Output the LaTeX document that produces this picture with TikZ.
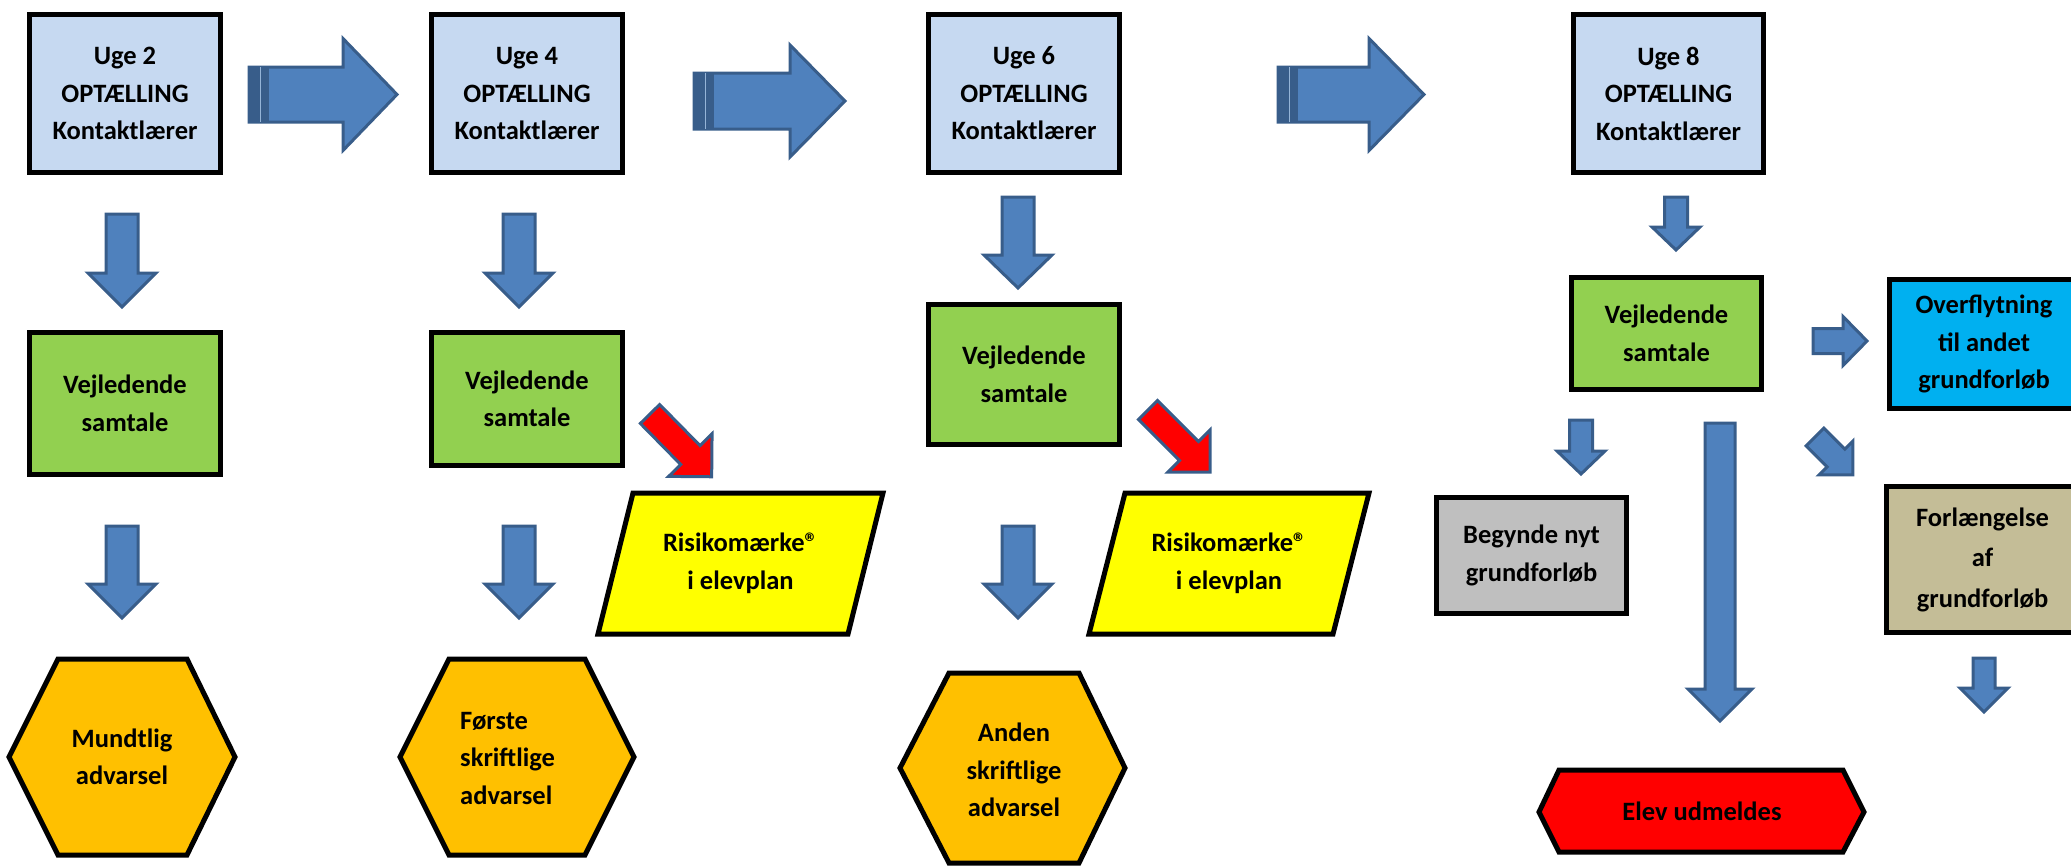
\documentclass[tikz,border=0pt]{standalone}
\usepackage{fontspec}
\setmainfont{Carlito}
\definecolor{boxblue}{HTML}{C6D9F1}
\definecolor{boxgreen}{HTML}{92D050}
\definecolor{boxyellow}{HTML}{FFFF00}
\definecolor{boxorange}{HTML}{FFC000}
\definecolor{boxcyan}{HTML}{00B0F0}
\definecolor{boxgrey}{HTML}{BFBFBF}
\definecolor{boxtan}{HTML}{C4BD97}
\definecolor{arrowfill}{HTML}{4F81BD}
\definecolor{arrowline}{HTML}{385D8A}
\newcommand{\blockarrow}[8]{%
  \begin{scope}[shift={(#1,#2)},rotate=#3]
    \filldraw[#8] (0,-#6) -- ({#4-#5},-#6) -- ({#4-#5},-#7) -- (#4,0) -- ({#4-#5},#7) -- ({#4-#5},#6) -- (0,#6) -- cycle;
  \end{scope}}
\newcommand{\tailstripe}[3]{% x top bottom
  \fill[arrowline] (#1,#2) rectangle ({#1+20},#3);
  \draw[arrowfill!60!white, line width=1pt] ({#1+11},#2) -- ({#1+11},#3);}
\newcommand{\regmark}{®}
\tikzset{
  lbl/.style={font=\fontsize{26.5}{37.5}\selectfont\bfseries, align=center, inner sep=0pt},
  box/.style={lbl, draw=black, line width=5pt, line join=miter},
  shapeline/.style={draw=black, line width=5pt, line join=miter},
  bluearrow/.style={fill=arrowfill, draw=arrowline, line width=3pt, line join=miter},
  redarrow/.style={fill=red, draw=arrowline, line width=3pt, line join=miter},
}
\begin{document}
\begin{tikzpicture}[x=1pt,y=-1pt]
\useasboundingbox (0,0) rectangle (2071,865);
\clip (0,0) rectangle (2071,865);

% top row boxes
\node[box, fill=boxblue, minimum width=191pt, minimum height=158pt] (u2) at (125,93.5) {Uge 2\\OPTÆLLING\\Kontaktlærer};
\node[box, fill=boxblue, minimum width=191pt, minimum height=158pt] (u4) at (527,93.5) {Uge 4\\OPTÆLLING\\Kontaktlærer};
\node[box, fill=boxblue, minimum width=191pt, minimum height=158pt] (u6) at (1024,93.5) {Uge 6\\OPTÆLLING\\Kontaktlærer};
\node[box, fill=boxblue, minimum width=190pt, minimum height=158pt] (u8) at (1668.5,93.5) {Uge 8\\OPTÆLLING\\Kontaktlærer};

% right arrows
\blockarrow{249}{94.5}{0}{148}{54}{27.5}{56}{bluearrow}
\tailstripe{249}{67}{122}
\blockarrow{694}{101}{0}{151}{55}{28}{56}{bluearrow}
\tailstripe{694}{73}{129}
\blockarrow{1278}{94.5}{0}{146}{55}{27.5}{56}{bluearrow}
\tailstripe{1278}{67}{122}

% down arrows top
\blockarrow{122}{214}{-90}{93}{34}{16}{34}{bluearrow}
\blockarrow{519}{214}{-90}{93}{34}{16}{34}{bluearrow}
\blockarrow{1018}{197}{-90}{91}{33}{16}{34}{bluearrow}
\blockarrow{1676}{197}{-90}{53}{23}{11.5}{24}{bluearrow}

% green boxes
\node[box, fill=boxgreen, minimum width=191pt, minimum height=142pt] (v1) at (125,403.5) {Vejledende\\samtale};
\node[box, fill=boxgreen, minimum width=191pt, minimum height=133pt] (v2) at (527,399) {Vejledende\\samtale};
\node[box, fill=boxgreen, minimum width=191pt, minimum height=140pt] (v3) at (1024,374.5) {Vejledende\\samtale};
\node[box, fill=boxgreen, minimum width=190pt, minimum height=112pt] (v4) at (1666.5,333.5) {Vejledende\\samtale};

% right-hand boxes
\node[box, fill=boxcyan, minimum width=189pt, minimum height=129pt] (over) at (1984,344) {Overflytning\\til andet\\grundforløb};
\node[box, fill=boxgrey, minimum width=190pt, minimum height=116pt] (beg) at (1531.5,555.5) {Begynde nyt\\grundforløb};
\node[box, fill=boxtan, minimum width=192pt, minimum height=146pt, font=\fontsize{26.5}{40.5}\selectfont\bfseries] (forl) at (1982.5,559.5) {Forlængelse\\af\\grundforløb};

% red diagonal arrows
\blockarrow{650}{414}{-45.5}{88}{30.4}{13.5}{30.4}{redarrow}
\blockarrow{1148}{410}{-45}{87.7}{29.7}{13.5}{29.7}{redarrow}

% parallelograms
\filldraw[shapeline, fill=boxyellow] (633,493) -- (883,493) -- (848,634) -- (598,634) -- cycle;
\node[lbl] (r1) at (740.5,563.5) {Risikomærke\regmark\\i elevplan};
\filldraw[shapeline, fill=boxyellow] (1125,493) -- (1369,493) -- (1333,634) -- (1089,634) -- cycle;
\node[lbl] (r2) at (1229,563.5) {Risikomærke\regmark\\i elevplan};

% down arrows lower
\blockarrow{122}{526}{-90}{92}{34}{16}{34}{bluearrow}
\blockarrow{519}{526}{-90}{92}{34}{16}{34}{bluearrow}
\blockarrow{1018}{526}{-90}{92}{34}{16}{34}{bluearrow}

% week 8 arrows
\blockarrow{1813}{341}{0}{54}{24}{12.5}{24.5}{bluearrow}
\blockarrow{1815}{437}{-45}{53.7}{24}{12.5}{24}{bluearrow}
\blockarrow{1581}{420}{-90}{54}{23}{11.5}{24}{bluearrow}
\blockarrow{1720}{423}{-90}{298}{32}{15}{32}{bluearrow}
\blockarrow{1984}{658}{-90}{54}{24}{11}{24}{bluearrow}

% hexagons
\filldraw[shapeline, fill=boxorange] (9,757) -- (58,659) -- (187,659) -- (235,757) -- (187,855) -- (58,855) -- cycle;
\node[lbl] (h1) at (122,757) {Mundtlig\\advarsel};
\filldraw[shapeline, fill=boxorange] (400,757) -- (449,659) -- (585,659) -- (634,757) -- (585,855) -- (449,855) -- cycle;
\node[lbl, align=left, anchor=west] (h2) at (460,758) {Første\\skriftlige\\advarsel};
\filldraw[shapeline, fill=boxorange] (900,768) -- (949,673) -- (1079,673) -- (1125,768) -- (1079,863) -- (949,863) -- cycle;
\node[lbl] (h3) at (1014,770) {Anden\\skriftlige\\advarsel};
\filldraw[shapeline, fill=red] (1539,812) -- (1559,770) -- (1843,770) -- (1864,812) -- (1843,852) -- (1559,852) -- cycle;
\node[lbl] (elev) at (1702,811) {Elev udmeldes};
\end{tikzpicture}
\end{document}
